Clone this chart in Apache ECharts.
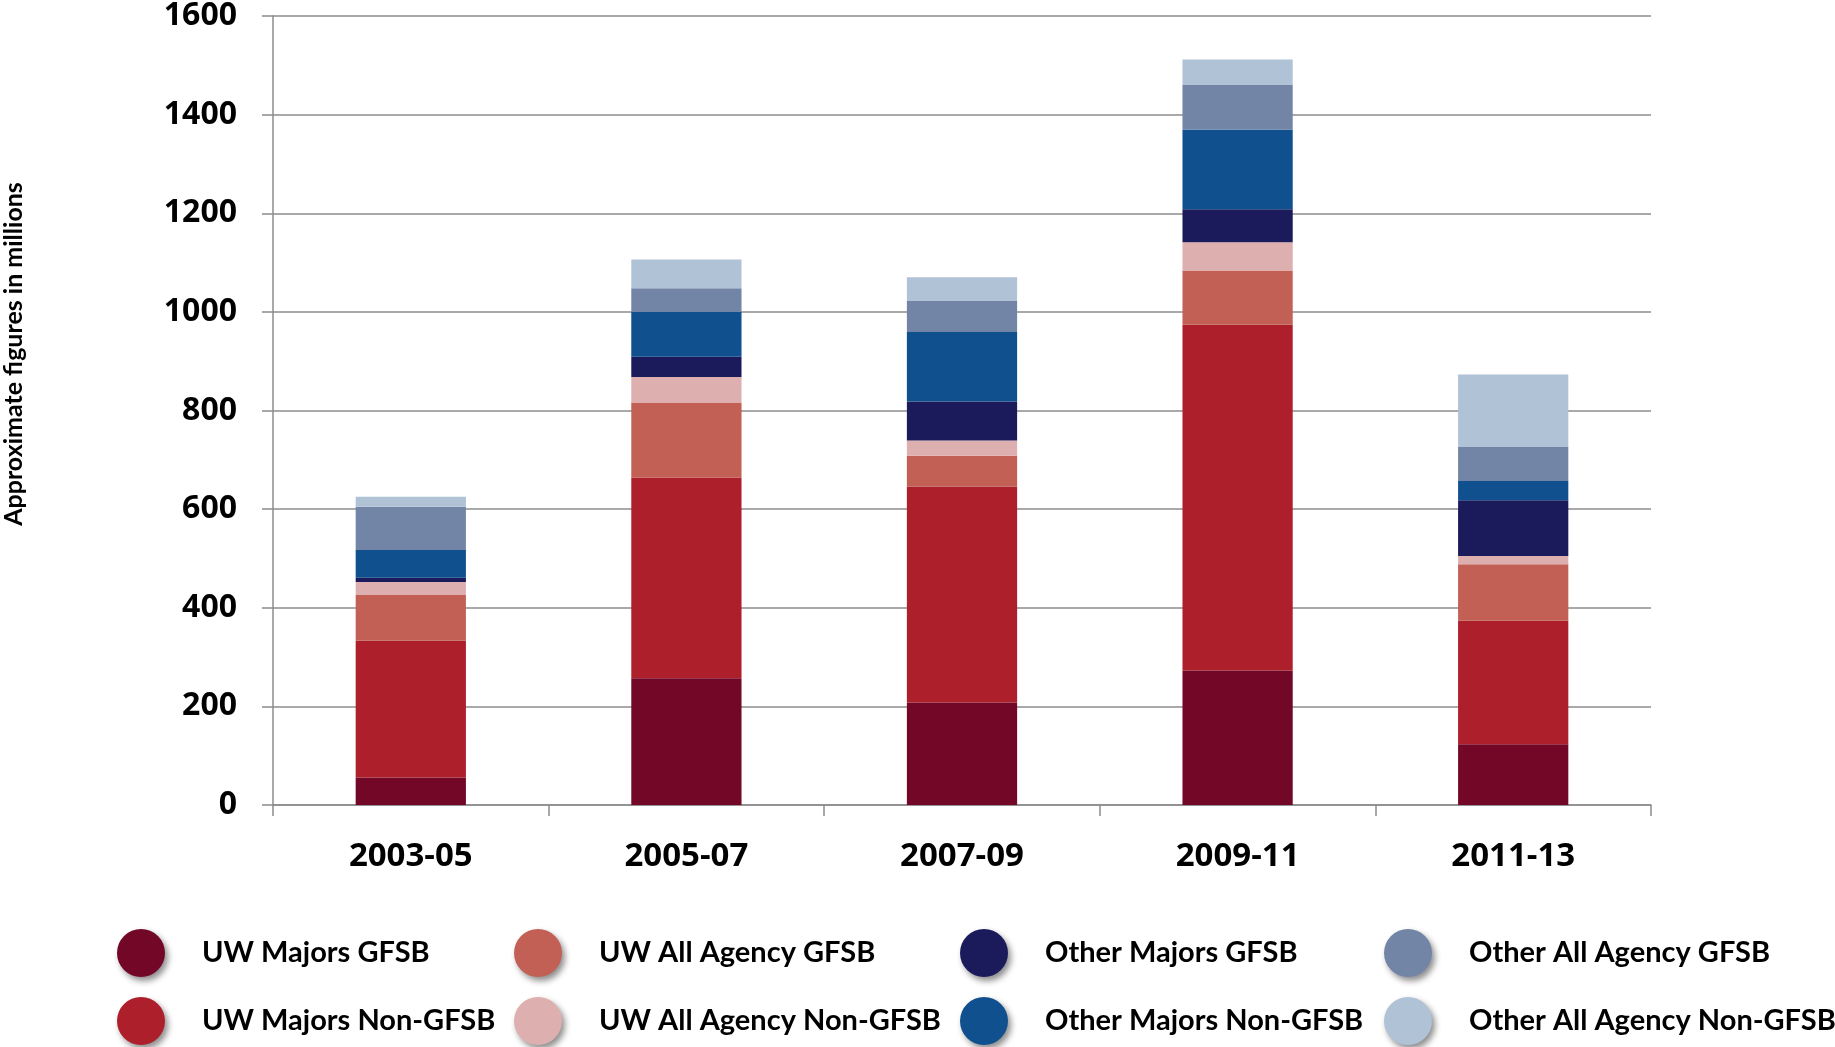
<!DOCTYPE html>
<html>
<head>
<meta charset="utf-8">
<script src="https://cdn.jsdelivr.net/npm/echarts@6/dist/echarts.min.js"></script>
<style>
html,body{margin:0;padding:0;background:#fff;}
#chart{width:1835px;height:1047px;}
</style>
</head>
<body>
<div id="chart"></div>
<script>
const categories = ['2003-05', '2005-07', '2007-09', '2009-11', '2011-13'];
const seriesNames = ['UW Majors GFSB', 'UW Majors Non-GFSB', 'UW All Agency GFSB', 'UW All Agency Non-GFSB',
  'Other Majors GFSB', 'Other Majors Non-GFSB', 'Other All Agency GFSB', 'Other All Agency Non-GFSB'];
const uwMajorsGFSB = [56, 257, 208, 273, 123];
const uwMajorsNonGFSB = [277, 407, 438, 701, 251];
const uwAllAgencyGFSB = [93, 152, 62, 110, 114];
const uwAllAgencyNonGFSB = [26, 52, 31, 57, 17];
const otherMajorsGFSB = [9, 41, 79, 67, 113];
const otherMajorsNonGFSB = [56, 91, 141, 162, 39];
const otherAllAgencyGFSB = [88, 48, 63, 90, 69];
const otherAllAgencyNonGFSB = [20, 58, 48, 52, 147];
const yTicks = [0, 200, 400, 600, 800, 1000, 1200, 1400, 1600];

const colors = ['#720728', '#ad1f2b', '#c26055', '#deafaf', '#1b1b5c', '#10508f', '#7385a6', '#b0c2d5'];
const values = [uwMajorsGFSB, uwMajorsNonGFSB, uwAllAgencyGFSB, uwAllAgencyNonGFSB,
  otherMajorsGFSB, otherMajorsNonGFSB, otherAllAgencyGFSB, otherAllAgencyNonGFSB];

const chart = echarts.init(document.getElementById('chart'));
const ellipse = 'path://M50,0 A50,50 0 1,1 49.99,0 Z';
const legendCols = [[0, 1], [2, 3], [4, 5], [6, 7]];
const legendLefts = [117, 514, 960, 1384];
const legends = legendCols.map((pair, i) => ({
  orient: 'vertical',
  left: legendLefts[i],
  top: 929,
  padding: 0,
  itemWidth: 54,
  itemHeight: 48,
  itemGap: 20,
  icon: ellipse,
  selectedMode: false,
  data: pair.map(k => seriesNames[k]),
  itemStyle: {shadowColor: 'rgba(0,0,0,0.45)', shadowBlur: 6, shadowOffsetX: 3, shadowOffsetY: 4},
  textStyle: {fontFamily: 'Lato', fontWeight: 'bold', fontSize: 29, color: '#000', padding: [0, 0, 0, 29]}
}));

chart.setOption({
  animation: false,
  color: colors,
  grid: {left: 273, right: 184, top: 16, bottom: 242, containLabel: false},
  legend: legends,
  graphic: [{
    type: 'text',
    x: 14, y: 354,
    rotation: Math.PI / 2,
    style: {text: 'Approximate figures in millions', fontFamily: 'Lato', fontWeight: 'bold', fontSize: 25,
      fill: '#000', align: 'center', verticalAlign: 'middle'}
  }],
  xAxis: {
    type: 'category',
    data: categories,
    axisLine: {lineStyle: {color: '#8c8c8c', width: 1.5}},
    axisTick: {show: true, length: 11, lineStyle: {color: '#8c8c8c', width: 1.5}},
    axisLabel: {fontFamily: 'Open Sans', fontWeight: 'bold', fontSize: 33, color: '#000', margin: 35}
  },
  yAxis: {
    type: 'value',
    min: yTicks[0], max: yTicks[yTicks.length - 1], interval: 200,
    axisLine: {show: true, lineStyle: {color: '#8c8c8c', width: 1.5}},
    axisTick: {show: true, length: 11, lineStyle: {color: '#8c8c8c', width: 1.5}},
    splitLine: {lineStyle: {color: '#8c8c8c', width: 1.5}},
    axisLabel: {fontFamily: 'Open Sans', fontWeight: 'bold', fontSize: 32, color: '#000', margin: 36,
      formatter: v => String(v)}
  },
  series: seriesNames.map((name, i) => ({
    name: name,
    type: 'bar',
    stack: 'total',
    barWidth: '40%',
    data: values[i],
    itemStyle: {color: colors[i]}
  }))
});
</script>
</body>
</html>
